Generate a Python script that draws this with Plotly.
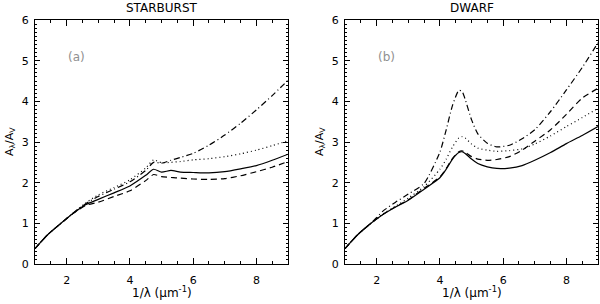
import plotly.graph_objects as go

# ---------------- data ----------------
sb_x = [1.0, 1.4, 1.82, 2.2, 2.6, 3.0, 3.5, 4.0, 4.5, 4.75, 5.0, 5.3, 5.6, 6.0, 6.5, 7.0, 7.5, 8.0, 8.5, 9.0]
sb_solid = [0.38, 0.72, 1.0, 1.24, 1.46, 1.59, 1.75, 1.92, 2.18, 2.33, 2.26, 2.30, 2.26, 2.25, 2.24, 2.27, 2.34, 2.42, 2.55, 2.70]
sb_dashed = [0.38, 0.72, 1.0, 1.24, 1.44, 1.52, 1.66, 1.80, 2.05, 2.20, 2.15, 2.13, 2.11, 2.09, 2.08, 2.10, 2.17, 2.27, 2.38, 2.52]
sb_dotted = [0.38, 0.72, 1.0, 1.25, 1.50, 1.70, 1.88, 2.07, 2.36, 2.56, 2.49, 2.50, 2.52, 2.56, 2.59, 2.64, 2.71, 2.80, 2.91, 3.03]
sb_dashdot = [0.38, 0.72, 1.0, 1.25, 1.48, 1.66, 1.84, 2.02, 2.30, 2.50, 2.48, 2.55, 2.62, 2.72, 2.92, 3.17, 3.46, 3.79, 4.14, 4.52]

dw_x = [1.0, 1.4, 1.82, 2.2, 2.6, 3.0, 3.5, 4.0, 4.2, 4.4, 4.6, 4.7, 4.8, 5.0, 5.2, 5.5, 5.8, 6.2, 6.6, 7.0, 7.5, 8.0, 8.5, 9.0]
dw_solid = [0.38, 0.72, 1.0, 1.22, 1.40, 1.57, 1.84, 2.12, 2.33, 2.58, 2.74, 2.76, 2.72, 2.58, 2.47, 2.39, 2.35, 2.36, 2.42, 2.55, 2.74, 2.96, 3.16, 3.38]
dw_dashed = [0.38, 0.72, 1.0, 1.22, 1.41, 1.58, 1.86, 2.14, 2.35, 2.60, 2.76, 2.78, 2.75, 2.64, 2.58, 2.55, 2.57, 2.64, 2.80, 3.02, 3.30, 3.68, 4.08, 4.32]
dw_dotted = [0.38, 0.72, 1.0, 1.23, 1.42, 1.62, 1.90, 2.33, 2.58, 2.88, 3.10, 3.13, 3.10, 2.95, 2.85, 2.80, 2.77, 2.79, 2.83, 2.95, 3.15, 3.38, 3.60, 3.83]
dw_dashdot = [0.38, 0.72, 1.0, 1.30, 1.52, 1.72, 1.98, 2.75, 3.30, 3.90, 4.27, 4.25, 4.05, 3.55, 3.20, 2.97, 2.88, 2.92, 3.08, 3.30, 3.75, 4.28, 4.83, 5.44]

titles = ["STARBURST", "DWARF"]
panel_tags = ["(a)", "(b)"]
x_ticks = [2, 4, 6, 8]
y_ticks = [0, 1, 2, 3, 4, 5, 6]

# ---------------- figure ----------------
FONT = "DejaVu Sans"
styles = {
    "solid": "solid",
    "dashed": "6px,4px",
    "dotted": "1px,3px",
    "dashdot": "6px,3px,1px,3px",
}

fig = go.Figure()

def add_panel(xs, curves, xa, ya):
    for key, ys in curves:
        fig.add_trace(go.Scatter(
            x=xs, y=ys, mode="lines", xaxis=xa, yaxis=ya,
            line=dict(color="black", width=1.2, dash=styles[key], shape="spline", smoothing=0.6),
            showlegend=False, hoverinfo="skip"))

add_panel(sb_x, [("solid", sb_solid), ("dashed", sb_dashed), ("dotted", sb_dotted), ("dashdot", sb_dashdot)], "x", "y")
add_panel(dw_x, [("solid", dw_solid), ("dashed", dw_dashed), ("dotted", dw_dotted), ("dashdot", dw_dashdot)], "x2", "y2")

W, H = 600, 304
L, R, T, B = 35, 2, 20, 40
pw = W - L - R
ph = H - T - B
d1 = [0, (288 - 35) / pw]
d2 = [(345 - 35) / pw, 1]

def xaxis(dom, anchor):
    return dict(domain=dom, anchor=anchor, range=[1, 9], tickvals=x_ticks,
                ticks="inside", ticklen=6, tickwidth=1, tickcolor="black",
                minor=dict(dtick=0.5, ticklen=3, tickwidth=1, tickcolor="black", ticks="inside"),
                showline=True, linecolor="black", linewidth=1, mirror="ticks",
                showgrid=False, zeroline=False, ticklabelstandoff=6,
                tickfont=dict(family=FONT, size=11, color="black"))

def yaxis(anchor):
    return dict(domain=[0, 1], anchor=anchor, range=[0, 6], tickvals=y_ticks,
                ticks="inside", ticklen=5, tickwidth=1, tickcolor="black",
                minor=dict(dtick=0.1, ticklen=2, tickwidth=1, tickcolor="black", ticks="inside"),
                showline=True, linecolor="black", linewidth=1, mirror="ticks",
                showgrid=False, zeroline=False, ticklabelstandoff=3,
                tickfont=dict(family=FONT, size=11, color="black"))

fig.update_layout(
    width=W, height=H, margin=dict(l=L, r=R, t=T, b=B),
    paper_bgcolor="white", plot_bgcolor="white",
    xaxis=xaxis(d1, "y"), yaxis=yaxis("x"),
    xaxis2=xaxis(d2, "y2"), yaxis2=yaxis("x2"),
    hovermode=False,
)

ann = []
for i, dom in enumerate([d1, d2]):
    cx = (dom[0] + dom[1]) / 2
    ann.append(dict(text=titles[i], xref="paper", yref="paper", x=cx, y=1 + 12 / ph,
                    xanchor="center", yanchor="middle", showarrow=False,
                    font=dict(family=FONT, size=12, color="black")))
    ann.append(dict(text="1/λ (μm<sup>-1</sup>)", xref="paper", yref="paper", x=cx, y=-28 / ph,
                    xanchor="center", yanchor="middle", showarrow=False,
                    font=dict(family=FONT, size=12, color="black")))
    ann.append(dict(text="A<sub>λ</sub>/A<sub>V</sub>", xref="paper", yref="paper",
                    x=dom[0] - 25 / pw, y=0.5, textangle=-90,
                    xanchor="center", yanchor="middle", showarrow=False,
                    font=dict(family=FONT, size=11, color="black")))
    ann.append(dict(text=panel_tags[i], xref="x" if i == 0 else "x2", yref="y" if i == 0 else "y2",
                    x=2.3, y=5.08, xanchor="center", yanchor="middle", showarrow=False,
                    font=dict(family=FONT, size=12, color="#909090")))
fig.update_layout(annotations=ann)

# remove the default page margin so the 600x304 figure fills the window exactly
fig.write_html("out.html", config={"displayModeBar": False},
               post_script="document.body.style.margin='0px';document.body.style.overflow='hidden';")
